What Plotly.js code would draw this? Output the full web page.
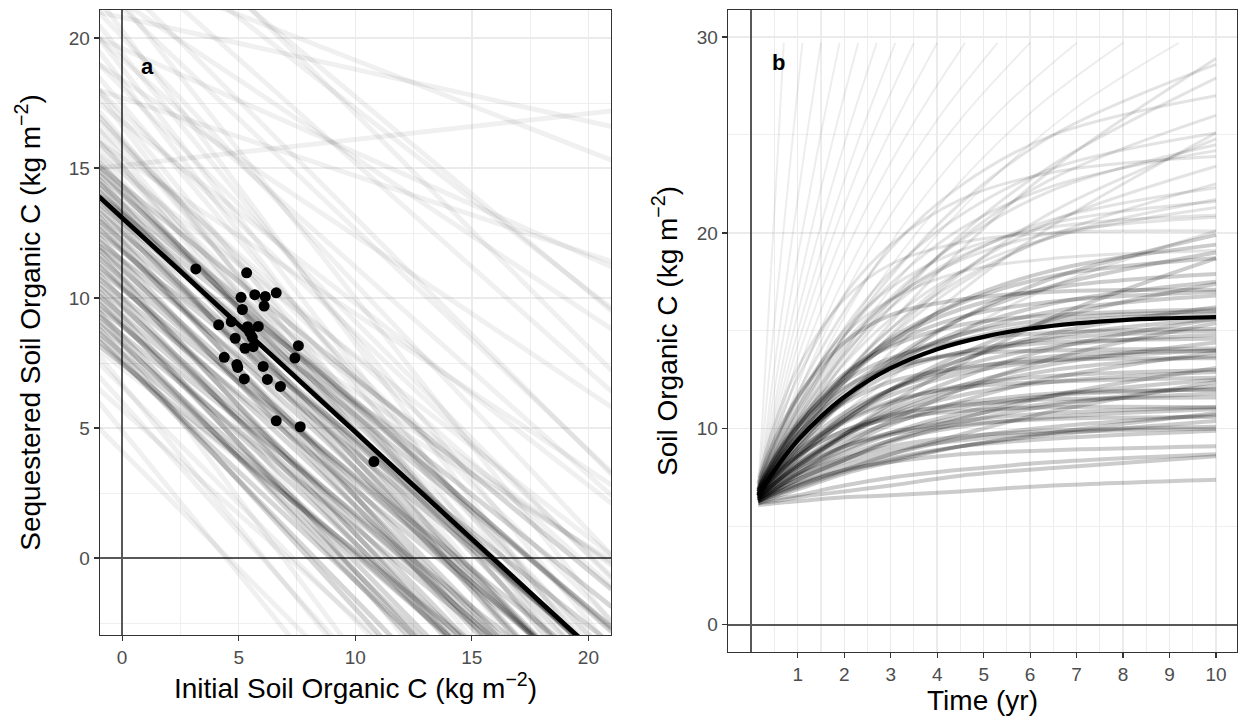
<!DOCTYPE html>
<html>
<head>
<meta charset="utf-8">
<script src="https://cdn.plot.ly/plotly-3.0.1.min.js"></script>
<style>html,body{margin:0;padding:0;background:#fff;}#chart{width:1239px;height:723px;}</style>
</head>
<body>
<div id="chart"></div>
<script>
// ---------- Panel a data ----------
// Observed sites: initial SOC vs sequestered SOC (kg m-2)
const initialSOC = [3.16,5.34,5.10,5.69,6.14,6.61,5.16,6.09,4.14,4.68,5.38,5.84,5.48,5.58,4.85,5.27,5.62,7.56,7.41,4.38,4.92,4.96,6.05,5.24,6.23,6.79,6.61,7.64,10.80];
const sequesteredSOC = [11.12,10.97,10.03,10.13,10.06,10.20,9.56,9.69,8.97,9.09,8.90,8.91,8.68,8.49,8.45,8.07,8.13,8.17,7.69,7.72,7.44,7.33,7.37,6.89,6.87,6.60,5.28,5.05,3.71];
// Fitted line endpoints
const fitX = [-1, 21];
const fitY = [13.91, -4.21];
// Ensemble lines, given by their y at x = -1 and at x = 21
const ensX = [-1, 21];
const coreYLeft  = [8.20,8.36,8.52,8.68,8.84,9.00,9.16,9.32,9.48,9.64,9.80,9.96,10.12,10.28,10.44,10.60,10.76,10.92,11.08,11.24,11.40,11.56,11.72,11.88,12.04,12.20,12.36,12.52,12.68,12.84,13.00,13.16,13.32,13.48,13.64,13.80,13.96,14.12,14.28,14.44,14.60,14.76,14.92,15.08,15.24];
const coreYRight = [-7.64,-10.12,-11.72,-8.48,-12.72,-8.60,-10.20,-6.96,-11.20,-6.20,-8.68,-10.28,-7.04,-11.28,-7.16,-8.76,-5.52,-9.76,-4.76,-7.24,-8.84,-5.60,-9.84,-5.72,-7.32,-4.08,-8.32,-3.32,-5.80,-7.40,-4.16,-8.40,-4.28,-5.88,-2.64,-6.88,-1.88,-4.36,-5.96,-2.72,-6.96,-2.84,-4.44,-1.20,-5.44];
const outerYLeft  = [7.0,6.0,7.5,6.5,5.0,8.0,7.8,16.0,16.5,17.0,18.0,19.0,20.0,21.0,22.0,23.0,24.0,17.5,15.5,14.0,13.0,12.0,16.0,19.0,22.0,25.0,26.0,20.0,23.0,18.0,15.0,21.0,27.0,9.5,12.0,14.5,16.5,18.0,20.0,15.8,17.2,16.8,
                    15.5,16.2,17.0,17.8,18.5,19.5,20.5,21.5,22.5,15.0,16.0];
const outerYRight = [-15.0,-18.2,-12.3,-11.1,-14.8,-7.4,-16.4,-3.8,-1.1,-3.9,-0.7,-0.8,2.4,0.1,3.3,3.2,6.4,2.1,0.1,-0.3,-0.2,-0.1,2.8,5.8,8.8,9.6,9.5,11.2,15.3,11.4,17.2,16.6,7.2,-16.9,-13.3,-9.7,-6.6,-6.2,-5.3,-5.0,-6.0,-2.4,
                    -6.5,-7.8,-5.5,-8.0,-4.5,-6.0,-3.5,-5.0,-2.5,-4.0,-5.0];

// ---------- Panel b data ----------
const meanTimes = [0.15,0.5,1,1.5,2,3,4,5,6,7,8,9,10];
const meanSOC   = [6.60,7.87,9.40,10.62,11.62,13.09,14.06,14.69,15.11,15.38,15.55,15.64,15.70];
const curveTimes = [0.15,0.5,1,2,3,4.5,6.5,10];
// Ensemble curves ending below about 20 kg m-2
const curveSOC = [
  [6.3,6.7,7.2,7.9,8.3,8.7,8.9,9.1],
  [6.4,6.9,7.6,8.5,9.1,9.6,9.9,10.1],
  [6.4,7.1,7.9,9.1,9.8,10.4,10.8,11.1],
  [6.5,7.3,8.3,9.7,10.6,11.3,11.8,12.0],
  [6.6,7.5,8.6,10.3,11.3,12.2,12.7,13.0],
  [6.6,7.7,9.0,10.8,12.0,13.0,13.7,14.0],
  [6.7,7.9,9.4,11.4,12.8,13.9,14.6,15.0],
  [6.8,8.1,9.7,12.0,13.5,14.8,15.6,16.0],
  [6.8,8.3,10.1,12.6,14.3,15.7,16.5,17.0],
  [6.3,6.7,7.1,7.9,8.5,9.1,9.5,9.9],
  [6.4,6.9,7.7,8.8,9.7,10.6,11.3,11.8],
  [6.5,7.2,8.2,9.7,10.8,12.0,13.0,13.7],
  [6.5,7.5,8.7,10.6,12.0,13.5,14.7,15.6],
  [6.6,7.8,9.2,11.5,13.2,15.0,16.4,17.5],
  [6.7,8.1,9.7,12.4,14.4,16.5,18.1,19.4],
  [6.2,6.4,6.6,7.1,7.5,7.9,8.3,8.7],
  [6.3,6.6,7.0,7.8,8.4,9.1,9.7,10.4],
  [6.3,6.8,7.4,8.4,9.3,10.3,11.2,12.2],
  [6.4,7.0,7.7,9.1,10.2,11.4,12.6,13.9],
  [6.4,7.2,8.1,9.7,11.1,12.6,14.1,15.6],
  [6.5,7.3,8.5,10.4,12.0,13.8,15.6,17.4],
  [6.6,7.6,9.0,11.4,13.3,15.6,17.7,19.9],
  [6.1,6.2,6.3,6.5,6.6,6.8,7.1,7.4],
  [6.2,6.3,6.5,6.8,7.1,7.6,8.0,8.6],
  [6.3,6.6,7.1,7.9,8.7,9.7,10.9,12.4],
  [6.4,7.1,8.0,9.7,11.3,13.3,15.7,18.7],
  [6.6,7.6,8.6,9.9,10.5,10.9,11.1,11.1],
  [6.9,8.5,10.1,12.1,13.1,13.8,14.0,14.1],
  [7.2,9.4,11.6,14.4,15.8,16.6,17.0,17.1],
  [6.4,6.9,7.6,8.6,9.4,10.1,10.6,11.0],
  [6.5,7.2,8.2,9.6,10.7,11.7,12.4,12.9],
  [6.6,7.6,8.8,10.6,12.0,13.2,14.2,14.8],
  [6.7,7.9,9.4,11.6,13.3,14.8,16.0,16.8],
  [6.8,8.2,9.9,12.6,14.6,16.4,17.8,18.7],
  [6.5,7.2,8.0,9.1,9.7,10.2,10.5,10.6],
  [6.6,7.7,8.9,10.4,11.4,12.1,12.4,12.6],
  [6.8,8.1,9.7,11.8,13.0,13.9,14.4,14.6],
  [6.9,8.5,10.3,12.8,14.2,15.3,15.8,16.1],
  [6.3,6.7,7.2,8.1,8.7,9.5,10.1,10.7],
  [6.4,6.9,7.7,8.9,9.8,10.8,11.7,12.5],
  [6.4,7.2,8.1,9.6,10.9,12.2,13.3,14.4],
  [6.5,7.4,8.5,10.4,11.9,13.5,14.9,16.2],
  [6.6,7.8,9.2,11.6,13.5,15.6,17.3,19.0],
  [6.3,6.8,7.4,8.3,8.9,9.4,9.8,10.0],
  [6.5,7.2,8.1,9.4,10.3,11.1,11.7,12.0],
  [6.6,7.6,8.7,10.5,11.7,12.8,13.5,14.0],
  [6.7,7.9,9.4,11.6,13.1,14.5,15.4,15.9],
  [6.8,8.3,10.1,12.7,14.5,16.1,17.2,17.9],
  [6.6,7.5,8.6,9.9,10.7,11.2,11.5,11.6],
  [6.8,8.0,9.5,11.3,12.4,13.1,13.5,13.6],
  [6.9,8.4,10.2,12.4,13.6,14.5,14.9,15.1],
  [6.2,6.5,6.9,7.7,8.3,9.1,9.8,10.8],
  [6.3,6.8,7.4,8.4,9.4,10.5,11.7,13.1],
  [6.4,7.0,7.8,9.2,10.4,12.0,13.6,15.4]
];
// Ensemble curves ending higher up
const upperCurveSOC = [
  [6.8,8.3,10.2,13.3,15.6,18.0,19.8,21.3],
  [6.9,8.7,11.0,14.7,17.4,20.2,22.4,24.2],
  [7.1,9.2,11.8,16.0,19.2,22.4,25.0,27.0],
  [6.7,8.0,9.7,12.7,15.1,18.0,20.6,23.4],
  [6.9,8.6,10.8,14.7,17.8,21.5,25.0,28.6],
  [6.6,7.6,9.0,11.5,13.9,17.0,20.4,25.1],
  [7.5,10.2,13.1,16.6,18.4,19.5,20.0,20.1],
  [7.3,9.7,12.6,16.8,19.4,21.7,23.1,23.9],
  [6.7,8.1,9.9,12.8,15.1,17.6,19.8,21.7],
  [7.0,8.8,11.1,14.4,16.6,18.6,20.0,20.8],
  [6.5,7.4,8.6,10.8,12.6,14.9,17.3,20.1],
  [6.6,7.8,9.4,12.3,14.8,17.9,21.1,24.8],
  [6.9,8.5,10.5,13.8,16.2,18.7,20.7,22.3],
  [6.8,8.3,10.3,13.7,16.5,19.7,22.8,26.0],
  [6.7,8.1,10.0,13.4,16.2,19.9,23.5,27.9],
  [7.1,9.1,11.5,15.0,17.2,19.1,20.3,20.9],
  [6.9,8.7,10.8,14.2,16.5,18.8,20.5,21.6],
  [6.8,8.5,10.5,14.0,16.7,19.6,22.2,24.5],
  [6.6,7.9,9.5,12.6,15.4,19.1,23.3,28.9],
  [7.0,8.9,11.3,15.1,18.0,20.9,23.3,25.1],
  [7.1,9.2,11.6,14.8,16.6,18.0,18.7,19.1],
  [6.7,7.9,9.5,12.4,14.7,17.4,19.9,22.5]
];
// Curves that run past the top of the panel: their own times up to where they stop
const steepTimes = [
  [0.15,0.29,0.43,0.56,0.7],
  [0.15,0.39,0.63,0.86,1.1],
  [0.15,0.49,0.83,1.16,1.5],
  [0.15,0.59,1.03,1.46,1.9],
  [0.15,0.69,1.23,1.76,2.3],
  [0.15,0.79,1.43,2.06,2.7],
  [0.15,0.89,1.63,2.36,3.1],
  [0.15,0.99,1.83,2.66,3.5],
  [0.15,1.11,2.08,3.04,4.0],
  [0.15,1.26,2.38,3.49,4.6],
  [0.15,1.44,2.73,4.01,5.3],
  [0.15,1.61,3.08,4.54,6.0],
  [0.15,1.86,3.58,5.29,7.0],
  [0.15,2.11,4.08,6.04,8.0],
  [0.15,2.41,4.68,6.94,9.2]
];
const steepSOC = [
  [6.8,12.5,18.3,23.6,29.7],
  [6.8,12.9,18.6,24.1,29.7],
  [6.7,13.0,18.9,24.4,29.7],
  [6.7,13.3,19.2,24.6,29.7],
  [6.7,13.5,19.5,24.8,29.7],
  [6.7,13.8,19.8,25.0,29.7],
  [6.7,14.0,20.0,25.1,29.7],
  [6.6,14.2,20.3,25.3,29.7],
  [6.6,14.4,20.5,25.4,29.7],
  [6.6,14.6,20.8,25.6,29.7],
  [6.6,14.8,21.0,25.8,29.7],
  [6.6,15.0,21.2,25.9,29.7],
  [6.6,15.1,21.4,26.1,29.7],
  [6.5,15.2,21.5,26.2,29.7],
  [6.5,15.3,21.6,26.3,29.7]
];
const xTicksA = [0,5,10,15,20];
const yTicksA = [0,5,10,15,20];
const xTicksB = [1,2,3,4,5,6,7,8,9,10];
const yTicksB = [0,10,20,30];

// ---------- Build traces ----------
const traces = [];
function addLine(x, y, xa, ya, color, width, spline) {
  const line = {color: color, width: width};
  if (spline) { line.shape = 'spline'; line.smoothing = 1; }
  traces.push({type:'scatter', mode:'lines', x: x, y: y, xaxis: xa, yaxis: ya, line: line, hoverinfo:'skip', showlegend:false});
}
for (let i = 0; i < outerYLeft.length; i++) addLine(ensX, [outerYLeft[i], outerYRight[i]], 'x', 'y', 'rgba(0,0,0,0.06)', 5, false);
for (let i = 0; i < coreYLeft.length; i++)  addLine(ensX, [coreYLeft[i], coreYRight[i]], 'x', 'y', 'rgba(0,0,0,0.16)', 5, false);
addLine(fitX, fitY, 'x', 'y', '#000', 4.8, false);
traces.push({type:'scatter', mode:'markers', x: initialSOC, y: sequesteredSOC, xaxis:'x', yaxis:'y',
  marker:{color:'#000', size:11}, hoverinfo:'skip', showlegend:false});

for (let i = 0; i < steepSOC.length; i++) addLine(steepTimes[i], steepSOC[i], 'x2', 'y2', 'rgba(0,0,0,0.07)', 2, true);
for (let i = 0; i < upperCurveSOC.length; i++) addLine(curveTimes, upperCurveSOC[i], 'x2', 'y2', 'rgba(0,0,0,0.11)', 3, true);
for (let i = 0; i < curveSOC.length; i++) addLine(curveTimes, curveSOC[i], 'x2', 'y2', 'rgba(0,0,0,0.2)', 4, true);
addLine(meanTimes, meanSOC, 'x2', 'y2', '#000', 4.2, true);

const FONT = 'Liberation Sans, Arial, sans-serif';
const axBase = {
  showline:true, mirror:true, linecolor:'#333333', linewidth:1.3,
  ticks:'outside', ticklen:5, tickwidth:1.3, tickcolor:'#333333',
  showgrid:true, gridcolor:'#EBEBEB', gridwidth:1.4,
  zeroline:true, zerolinecolor:'#585858', zerolinewidth:2,
  tickfont:{family:FONT, size:19, color:'#4D4D4D'}
};
const titleFont = {family:FONT, size:28, color:'#000'};
const minorStyle = {showgrid:true, gridcolor:'#EDEDED', gridwidth:0.9, ticks:''};

const layout = {
  width:1239, height:723, margin:{l:0,r:0,t:0,b:0}, autosize:false,
  paper_bgcolor:'#fff', plot_bgcolor:'#fff', showlegend:false,
  font:{family:FONT},
  xaxis: Object.assign({}, axBase, {domain:[100/1239, 611/1239], range:[-0.95,20.97], anchor:'y',
    tickmode:'array', tickvals:xTicksA, ticktext:xTicksA.map(String),
    minor:Object.assign({dtick:2.5, tick0:0}, minorStyle),
    title:{text:'Initial Soil Organic C (kg m<sup>\u22122</sup>)', font:titleFont, standoff:11}}),
  yaxis: Object.assign({}, axBase, {domain:[1-635/723, 1-10/723], range:[-2.96,21.08], anchor:'x',
    tickmode:'array', tickvals:yTicksA, ticktext:yTicksA.map(String),
    minor:Object.assign({dtick:2.5, tick0:0}, minorStyle),
    title:{text:'Sequestered Soil Organic C (kg m<sup>\u22122</sup>)', font:titleFont, standoff:20}}),
  xaxis2: Object.assign({}, axBase, {domain:[728/1239, 1237/1239], range:[-0.5,10.45], anchor:'y2',
    tickmode:'array', tickvals:xTicksB, ticktext:xTicksB.map(String),
    minor:Object.assign({dtick:0.5, tick0:0}, minorStyle, {gridwidth:1.1}),
    title:{text:'Time (yr)', font:titleFont, standoff:3}}),
  yaxis2: Object.assign({}, axBase, {domain:[1-652/723, 1-10/723], range:[-1.4,31.38], anchor:'x2',
    tickmode:'array', tickvals:yTicksB, ticktext:yTicksB.map(String),
    minor:Object.assign({dtick:5, tick0:0}, minorStyle),
    title:{text:'Soil Organic C (kg m<sup>\u22122</sup>)', font:titleFont, standoff:11}}),
  annotations: [
    {xref:'x', yref:'y', x:1.07, y:18.9, text:'<b>a</b>', showarrow:false, font:{family:FONT, size:22, color:'#000'}},
    {xref:'x2', yref:'y2', x:0.58, y:28.7, text:'<b>b</b>', showarrow:false, font:{family:FONT, size:22, color:'#000'}}
  ]
};

Plotly.newPlot('chart', traces, layout, {staticPlot:true, displayModeBar:false});
</script>
</body>
</html>
